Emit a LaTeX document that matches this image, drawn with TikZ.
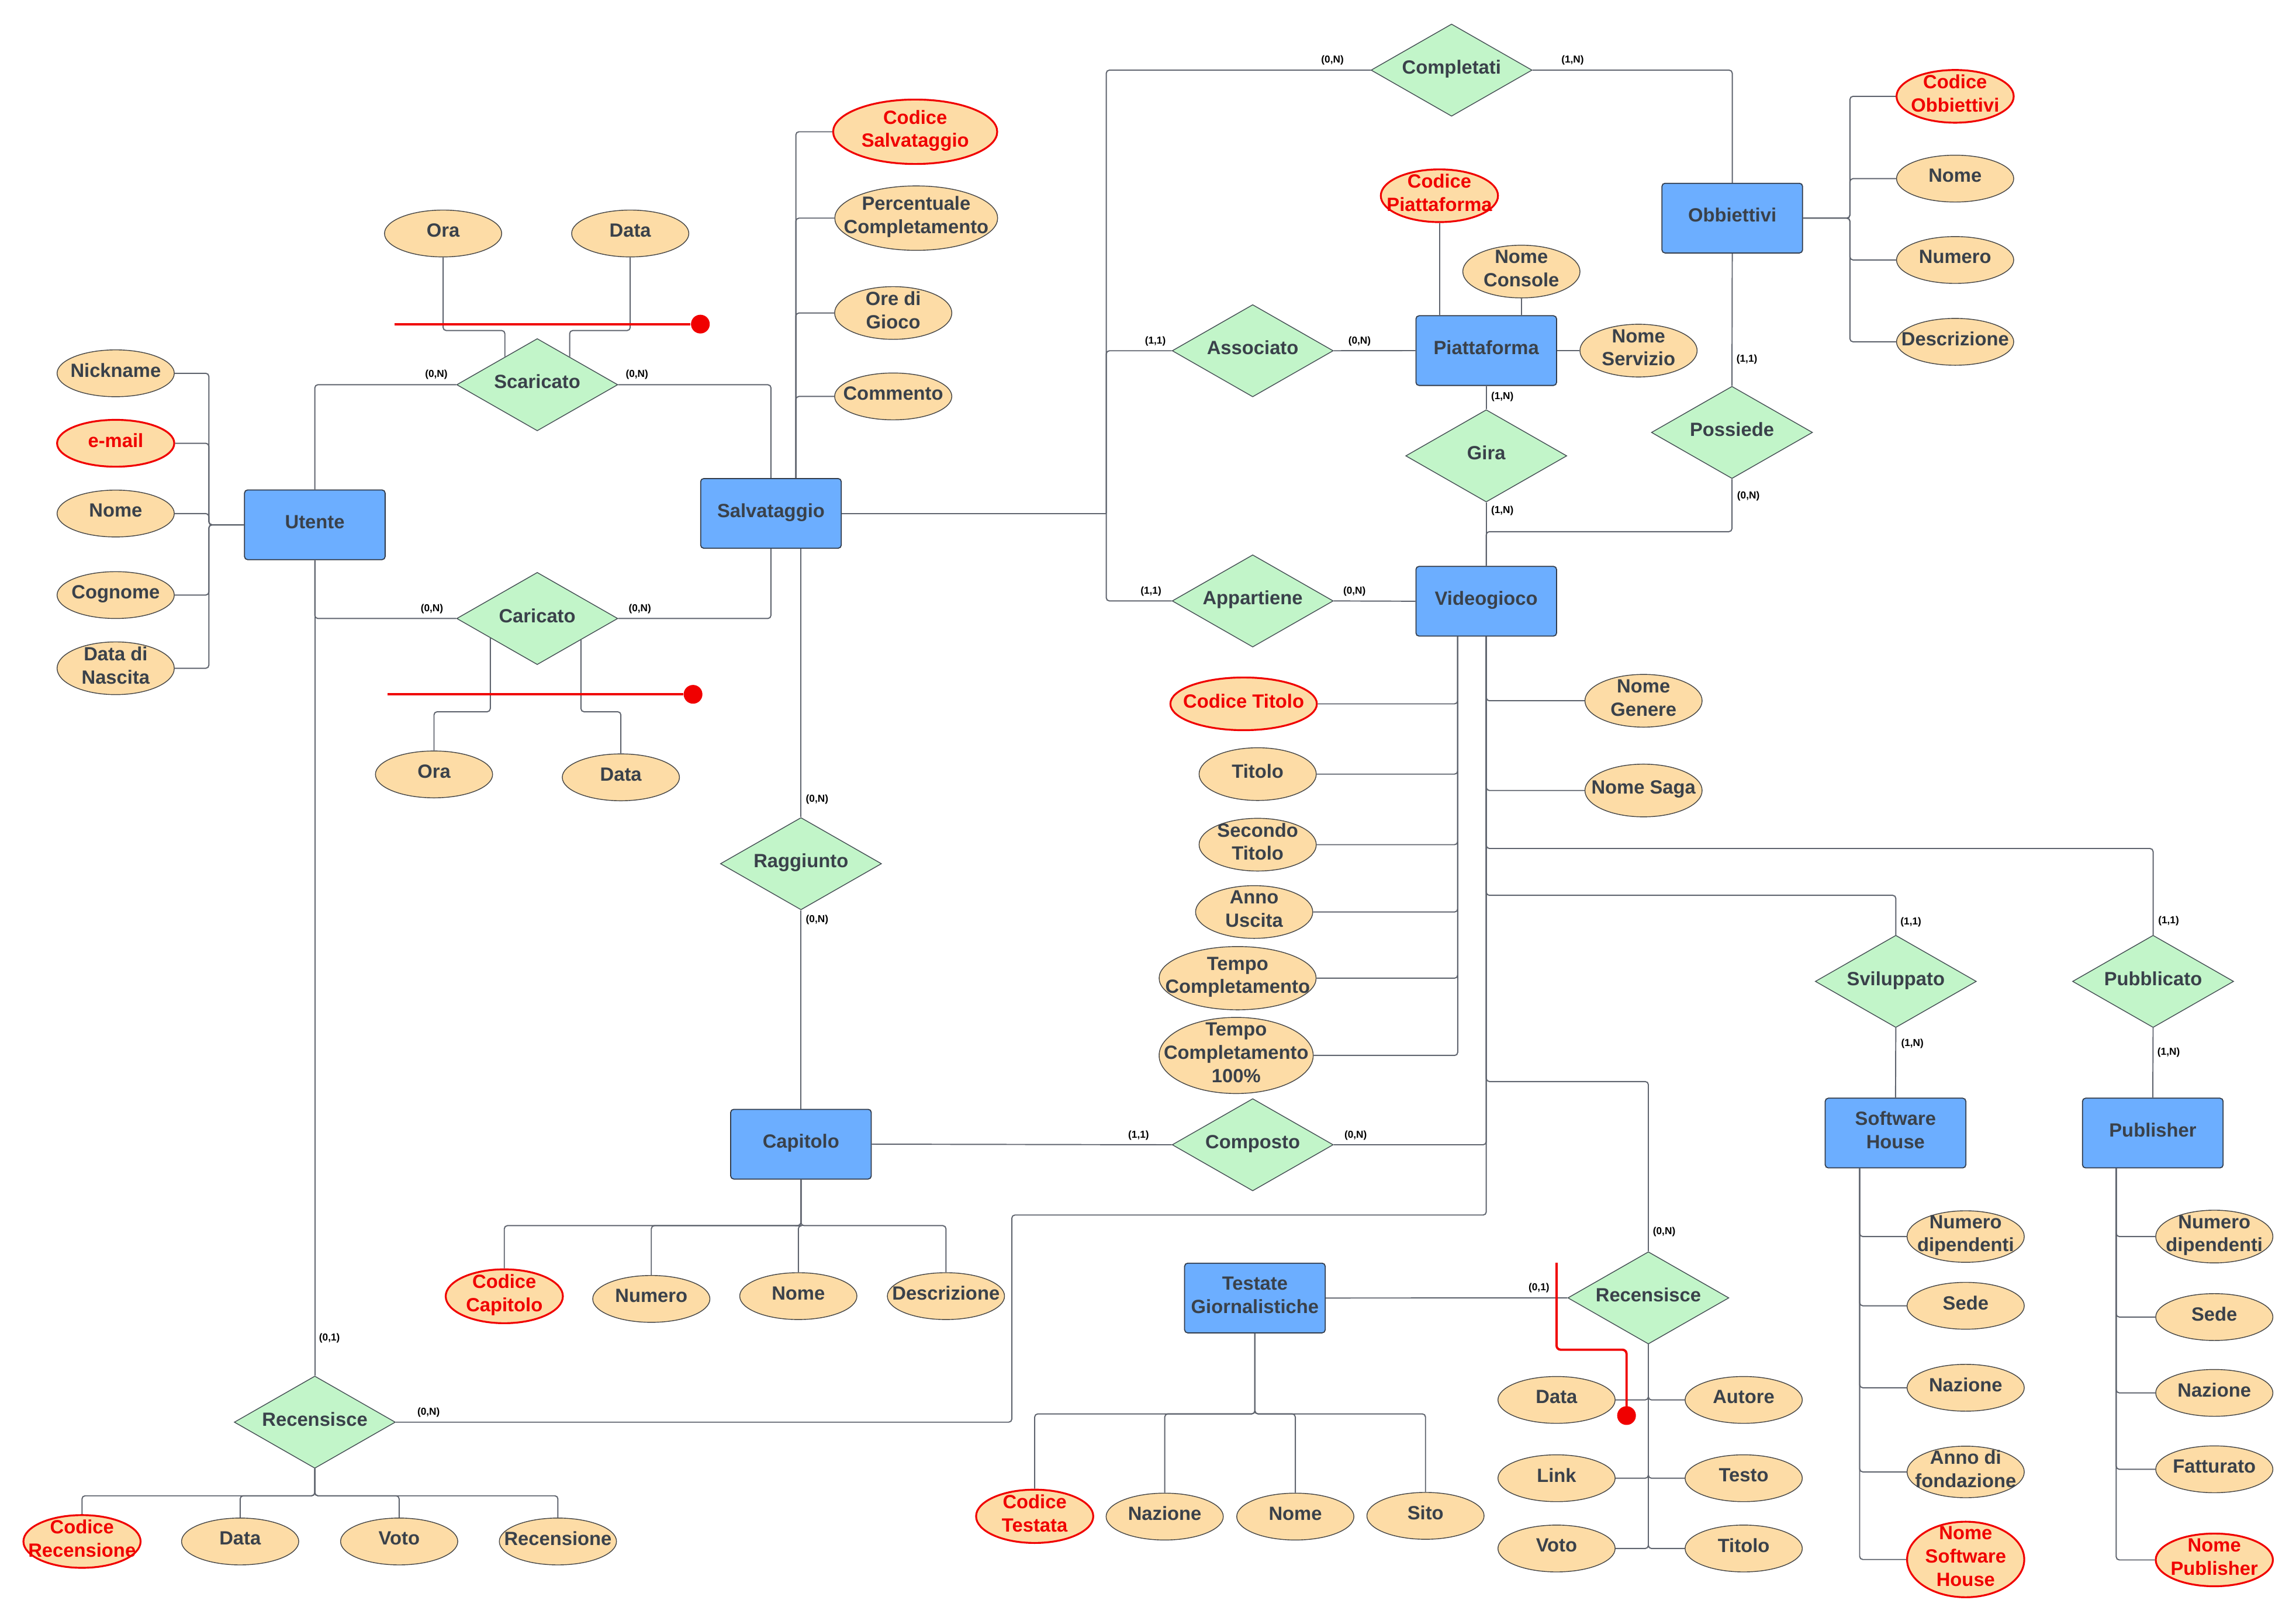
\documentclass[tikz,border=0pt]{standalone}
\usepackage{fontspec}
\setmainfont{Liberation Sans}
\usetikzlibrary{shapes.geometric,calc}
\definecolor{entfill}{RGB}{108,174,255}
\definecolor{entline}{RGB}{50,60,75}
\definecolor{relfill}{RGB}{194,245,201}
\definecolor{relline}{RGB}{70,80,85}
\definecolor{attfill}{RGB}{253,220,166}
\definecolor{attline}{RGB}{70,70,70}
\definecolor{txt}{RGB}{58,65,74}
\definecolor{connc}{RGB}{95,100,110}
\definecolor{keyred}{RGB}{240,0,0}
\begin{document}
\begin{tikzpicture}[x=0.025cm,y=-0.025cm,
  every node/.style={font=\fontsize{9.3}{11.3}\selectfont\bfseries, text=txt},
  ent/.style={rectangle, rounded corners=1.5pt, draw=entline, fill=entfill, line width=0.5pt,
    minimum width=2.4cm, minimum height=1.19cm, align=center, inner sep=1pt, text depth=3pt},
  rel/.style={diamond, aspect=1.76, draw=relline, fill=relfill, line width=0.4pt,
    minimum width=2.75cm, minimum height=1.575cm, inner sep=0pt, text depth=3pt},
  attr/.style={ellipse, draw=attline, fill=attfill, line width=0.4pt,
    minimum width=2cm, minimum height=0.8cm, inner xsep=-20pt, inner ysep=-6pt, align=center, text depth=3pt},
  keyattr/.style={attr, draw=keyred, line width=0.9pt, text=keyred},
  card/.style={font=\fontsize{4.9}{5.5}\selectfont\bfseries, text=black, inner sep=0pt},
  conn/.style={draw=connc, line width=0.55pt, rounded corners=1.5pt},
  redl/.style={draw=keyred, line width=1.1pt, rounded corners=2pt},
  reddot/.style={circle, fill=keyred, minimum size=0.32cm, inner sep=0pt}]
\useasboundingbox (0,0) rectangle (1568,1107);

% ---------------- entities
\node[ent] (utente) at (215,358.5) {Utente};
\node[ent] (salv) at (526.5,350.7) {Salvataggio};
\node[ent] (obb) at (1183,149) {Obbiettivi};
\node[ent] (piatt) at (1015,239.5) {Piattaforma};
\node[ent] (video) at (1015,410.7) {Videogioco};
\node[ent] (cap) at (547,781.6) {Capitolo};
\node[ent] (test) at (857,886.7) {Testate\\Giornalistiche};
\node[ent] (sh) at (1294.5,774) {Software\\House};
\node[ent] (pub) at (1470.2,774) {Publisher};

% ---------------- relationships
\node[rel] (compl) at (991.3,47.9) {Completati};
\node[rel] (scar) at (366.9,262.8) {Scaricato};
\node[rel] (car) at (366.9,422.5) {Caricato};
\node[rel] (assoc) at (855.5,239.6) {Associato};
\node[rel] (gira) at (1015,311.4) {Gira};
\node[rel] (poss) at (1182.8,295.4) {Possiede};
\node[rel] (appart) at (855.5,410.5) {Appartiene};
\node[rel] (ragg) at (547,590) {Raggiunto};
\node[rel] (comp) at (855.5,782) {Composto};
\node[rel] (svil) at (1294.7,670.4) {Sviluppato};
\node[rel] (pubb) at (1470.4,670.4) {Pubblicato};
\node[rel] (recR) at (1125.7,886.6) {Recensisce};
\node[rel] (recL) at (215,971.5) {Recensisce};

% ---------------- attributes: Utente
\node[attr] (nick) at (79,255) {Nickname};
\node[keyattr] (email) at (79,302.8) {e-mail};
\node[attr] (unome) at (79,350.8) {Nome};
\node[attr] (cogn) at (79,406.5) {Cognome};
\node[attr, minimum height=0.9cm] (dnasc) at (79,456.5) {Data di\\Nascita};
% Scaricato / Caricato
\node[attr] (sora) at (302.6,159.5) {Ora};
\node[attr] (sdata) at (430.4,159.5) {Data};
\node[attr] (cora) at (296.4,529) {Ora};
\node[attr] (cdata) at (424,531) {Data};
% Salvataggio
\node[keyattr, minimum width=2.8cm, minimum height=1.1cm] (csalv) at (625,90) {Codice\\Salvataggio};
\node[attr, minimum width=2.78cm, minimum height=1.1cm] (perc) at (625.7,149) {Percentuale\\Completamento};
\node[attr, minimum height=0.9cm] (ore) at (610,213.8) {Ore di\\Gioco};
\node[attr] (comm) at (610,270.8) {Commento};
% Piattaforma
\node[keyattr, minimum height=0.9cm] (cpiatt) at (983,133.7) {Codice\\Piattaforma};
\node[attr, minimum height=0.9cm] (ncons) at (1039,185.5) {Nome\\Console};
\node[attr, minimum height=0.9cm] (nserv) at (1119,239.5) {Nome\\Servizio};
% Obbiettivi
\node[keyattr, minimum height=0.9cm] (cobb) at (1335.2,65.8) {Codice\\Obbiettivi};
\node[attr] (onome) at (1335.2,122) {Nome};
\node[attr] (onum) at (1335.2,177.6) {Numero};
\node[attr] (odesc) at (1335.2,233.5) {Descrizione};
% Videogioco
\node[keyattr, minimum width=2.5cm, minimum height=0.9cm] (ctit) at (849.3,480.8) {Codice Titolo};
\node[attr, minimum height=0.9cm] (tit) at (858.9,528.8) {Titolo};
\node[attr, minimum height=0.9cm] (stit) at (858.9,577) {Secondo\\Titolo};
\node[attr, minimum height=0.9cm] (anno) at (856.5,623) {Anno\\Uscita};
\node[attr, minimum width=2.68cm, minimum height=1.08cm] (tc) at (845.2,668.2) {Tempo\\Completamento};
\node[attr, minimum width=2.63cm, minimum height=1.3cm] (tcc) at (844.2,721) {Tempo\\Completamento\\100\%};
\node[attr, minimum height=0.9cm] (ngen) at (1122.4,478.7) {Nome\\Genere};
\node[attr, minimum height=0.9cm] (nsaga) at (1122.4,540) {Nome Saga};
% Software House
\node[attr, minimum height=0.88cm] (shnd) at (1342.4,844.7) {Numero\\dipendenti};
\node[attr] (shsede) at (1342.4,892) {Sede};
\node[attr] (shnaz) at (1342.4,948) {Nazione};
\node[attr, minimum height=0.88cm] (shanno) at (1342.4,1005.5) {Anno di\\fondazione};
\node[keyattr, minimum height=1.29cm] (shnome) at (1342.4,1065.3) {Nome\\Software\\House};
% Publisher
\node[attr, minimum height=0.9cm] (pnd) at (1512.2,844.7) {Numero\\dipendenti};
\node[attr] (psede) at (1512.2,899.7) {Sede};
\node[attr] (pnaz) at (1512.2,951.5) {Nazione};
\node[attr] (pfatt) at (1512.2,1003.7) {Fatturato};
\node[keyattr, minimum height=0.9cm] (pnome) at (1512.2,1065.6) {Nome\\Publisher};
% Recensisce (right)
\node[attr] (rdata) at (1063,956.3) {Data};
\node[attr] (raut) at (1190.8,956.3) {Autore};
\node[attr] (rlink) at (1063,1009.8) {Link};
\node[attr] (rtesto) at (1190.8,1009.8) {Testo};
\node[attr] (rvoto) at (1063,1057.8) {Voto};
\node[attr] (rtit) at (1190.8,1057.8) {Titolo};
% Testate
\node[keyattr, minimum height=0.91cm] (ctest) at (706.6,1035.8) {Codice\\Testata};
\node[attr] (tnaz) at (795.4,1036) {Nazione};
\node[attr] (tnome) at (884.6,1036) {Nome};
\node[attr] (tsito) at (973.5,1035.5) {Sito};
% Capitolo
\node[keyattr, minimum height=0.92cm] (ccap) at (344.4,885.5) {Codice\\Capitolo};
\node[attr] (cnum) at (444.8,887.3) {Numero};
\node[attr] (cnome) at (545.2,885.4) {Nome};
\node[attr] (cdesc) at (646,885.4) {Descrizione};
% Recensisce (left)
\node[keyattr, minimum height=0.9cm] (crec) at (56,1053) {Codice\\Recensione};
\node[attr] (ldata) at (164,1053) {Data};
\node[attr] (lvoto) at (272.6,1053) {Voto};
\node[attr] (lrec) at (381,1053) {Recensione};

% ---------------- helper coordinates
\coordinate (ubus) at ($(utente.west)+(-24,0)$);
\coordinate (sbus) at ($(salv.north)+(17,0)$);
\coordinate (hub) at (755.5,350.7);
\coordinate (obus) at ($(obb.east)+(32,0)$);
\coordinate (vl) at ($(video.south)+(-19.5,0)$);
\coordinate (shb) at ($(sh.south)+(-24.5,0)$);
\coordinate (pb) at ($(pub.south)+(-25,0)$);
\coordinate (tb) at ($(test.south)+(0,55)$);
\coordinate (cb) at ($(cap.south)+(0,31.5)$);
\coordinate (lb) at ($(recL.south)+(0,18.5)$);
\coordinate (bendA) at (691,830);

% ---------------- connectors
% Utente attributes
\foreach \a in {nick,email,unome,cogn,dnasc}
  \draw[conn] (\a.east) -| (ubus) -- (utente.west);
% Utente - Scaricato/Caricato - Salvataggio
\draw[conn] (utente.north) |- (scar.west);
\draw[conn] (scar.east) -| (salv.north);
\draw[conn] (utente.south) |- (car.west);
\draw[conn] (car.east) -| (salv.south);
\draw[conn] (sora.south) -- ++(0,50) -| ($(scar.north)!0.4!(scar.west)$);
\draw[conn] (sdata.south) -- ++(0,50) -| ($(scar.north)!0.4!(scar.east)$);
\draw[conn] (cora.north) -- ++(0,-26.5) -| ($(car.south)!0.58!(car.west)$);
\draw[conn] (cdata.north) -- ++(0,-28.5) -| ($(car.south)!0.54!(car.east)$);
% Salvataggio attributes
\foreach \a in {csalv,perc,ore,comm}
  \draw[conn] (\a.west) -| (sbus);
% Salvataggio hub
\draw[conn] (salv.east) -- (hub);
\draw[conn] (hub) |- (compl.west);
\draw[conn] (hub) |- (assoc.west);
\draw[conn] (hub) |- (appart.west);
\draw[conn] (compl.east) -| (obb.north);
\draw[conn] (assoc.east) -- (piatt.west);
\draw[conn] (appart.east) -- (video.west);
% Piattaforma
\draw[conn] (cpiatt.south) -- (cpiatt.south |- piatt.north);
\draw[conn] (ncons.south) -- (ncons.south |- piatt.north);
\draw[conn] (nserv.west) -- (nserv.west -| piatt.east);
\draw[conn] (piatt.south) -- (gira.north);
\draw[conn] (gira.south) -- (video.north);
% Obbiettivi
\foreach \a in {cobb,onome,onum,odesc}
  \draw[conn] (\a.west) -| (obus) -- (obb.east);
\draw[conn] (obb.south) -- (poss.north);
\draw[conn] (poss.south) -- ++(0,36) -| (video.north);
% Videogioco attributes
\foreach \a in {ctit,tit,stit,anno,tc,tcc}
  \draw[conn] (\a.east) -| (vl);
\draw[conn] (ngen.west) -| (video.south);
\draw[conn] (nsaga.west) -| (video.south);
\draw[conn] (pubb.north) -- ++(0,-59) -| (video.south);
\draw[conn] (svil.north) -- ++(0,-27) -| (video.south);
\draw[conn] (recR.north) -- ++(0,-116) -| (video.south);
\draw[conn] (comp.east) -| (video.south);
\draw[conn] (recL.east) -| (bendA) -| (video.south);
% Software House / Publisher
\draw[conn] (svil.south) -- (sh.north);
\draw[conn] (pubb.south) -- (pub.north);
\foreach \a in {shnd,shsede,shnaz,shanno,shnome}
  \draw[conn] (\a.west) -| (shb);
\foreach \a in {pnd,psede,pnaz,pfatt,pnome}
  \draw[conn] (\a.west) -| (pb);
% Recensisce right
\draw[conn] (test.east) -- (recR.west);
\foreach \a in {rdata,rlink,rvoto}
  \draw[conn] (\a.east) -| (recR.south);
\foreach \a in {raut,rtesto,rtit}
  \draw[conn] (\a.west) -| (recR.south);
% Testate
\foreach \a in {ctest,tnaz,tnome,tsito}
  \draw[conn] (\a.north) |- (tb) -- (test.south);
% Capitolo
\draw[conn] (ragg.north) -- (ragg.north |- salv.south);
\draw[conn] (ragg.south) -- (cap.north);
\draw[conn] (cap.east) -- (comp.west);
\foreach \a in {ccap,cnum,cnome,cdesc}
  \draw[conn] (\a.north) |- (cb) -- (cap.south);
% Recensisce left
\draw[conn] (utente.south) -- (recL.north);
\foreach \a in {crec,ldata,lvoto,lrec}
  \draw[conn] (\a.north) |- (lb) -- (recL.south);

% ---------------- red markers
\coordinate (ra) at (269.5,221.4);
\node[reddot] (rda) at (478.3,221.4) {};
\draw[redl] (ra) -- (rda);
\coordinate (rb) at (264.8,474.3);
\node[reddot] (rdb) at (473.3,474.3) {};
\draw[redl] (rb) -- (rdb);
\coordinate (rc) at (1063,862.6);
\node[reddot] (rdc) at (1110.8,967) {};
\draw[redl] (rc) -- (1063,922) -- (1110.8,922) -- (rdc.center);

% ---------------- cardinalities
\node[card] (k1) at (298,256) {(0,N)};
\node[card] (k2) at (435,256) {(0,N)};
\node[card] (k3) at (295,416) {(0,N)};
\node[card] (k4) at (437,416) {(0,N)};
\node[card] (k5) at (910,41) {(0,N)};
\node[card] (k6) at (1074,41) {(1,N)};
\node[card] (k7) at (789,233) {(1,1)};
\node[card] (k8) at (928.5,233) {(0,N)};
\node[card] (k9) at (1026,271) {(1,N)};
\node[card] (k10) at (1026,349) {(1,N)};
\node[card] (k11) at (1193,245.5) {(1,1)};
\node[card] (k12) at (1194,339) {(0,N)};
\node[card] (k13) at (786,404) {(1,1)};
\node[card] (k14) at (925,404) {(0,N)};
\node[card] (k15) at (558,546) {(0,N)};
\node[card] (k16) at (558,628.5) {(0,N)};
\node[card] (k17) at (777.6,775.7) {(1,1)};
\node[card] (k18) at (925.8,775.7) {(0,N)};
\node[card] (k19) at (1305,630) {(1,1)};
\node[card] (k20) at (1306,713) {(1,N)};
\node[card] (k21) at (1481,629) {(1,1)};
\node[card] (k22) at (1481,719) {(1,N)};
\node[card] (k23) at (1136.5,841.5) {(0,N)};
\node[card] (k24) at (1051,880) {(0,1)};
\node[card] (k25) at (225,914) {(0,1)};
\node[card] (k26) at (292.7,965) {(0,N)};
\end{tikzpicture}
\end{document}
